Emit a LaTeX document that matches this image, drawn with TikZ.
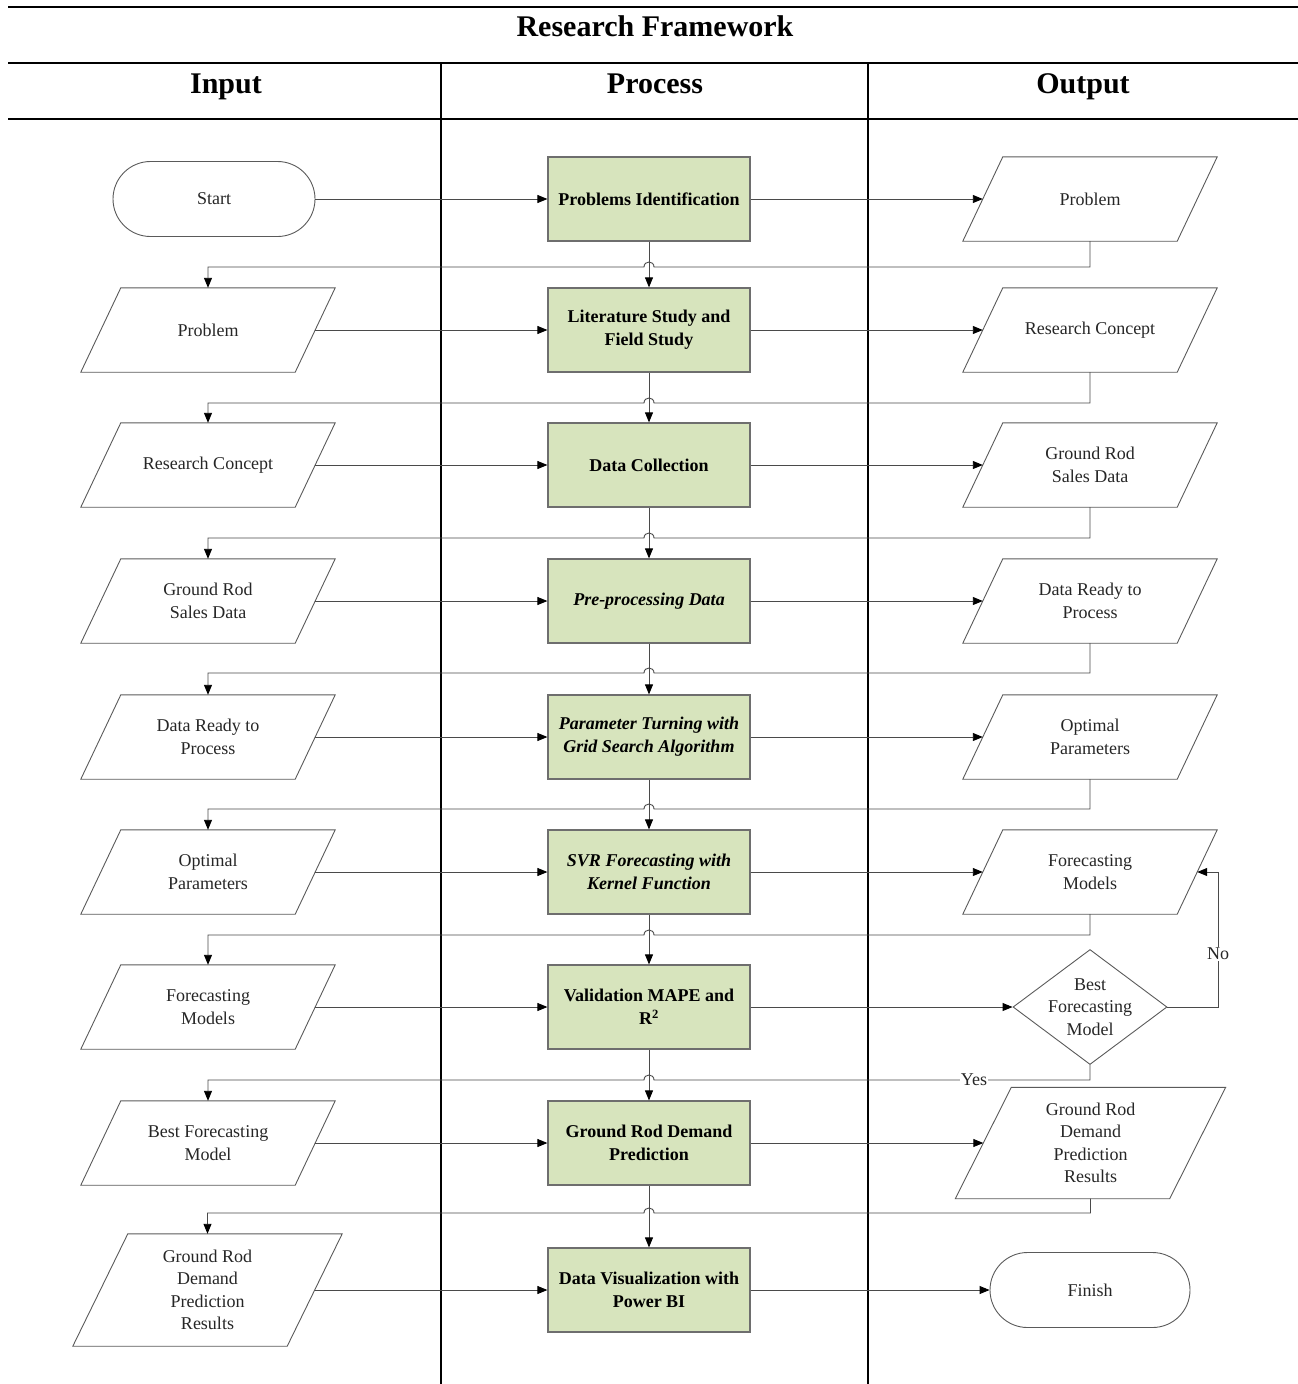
\documentclass[tikz,border=0pt]{standalone}
\usepackage{fontspec}
\setmainfont{Liberation Serif}
\usetikzlibrary{arrows.meta,shapes.geometric}
\definecolor{procfill}{HTML}{D7E4BD}
\definecolor{procline}{HTML}{6E6E6E}
\definecolor{shapeline}{HTML}{5A5A5A}
\definecolor{conline}{HTML}{4A4A4A}
\tikzset{
 body/.style={font=\fontsize{18}{22.5}\selectfont, align=center, text=black!85},
 procbox/.style={align=center, font=\fontsize{18}{22.8}\selectfont\bfseries, draw=procline, fill=procfill, line width=1.2pt, minimum width=202pt, minimum height=84pt, inner sep=0pt},
 iotext/.style={body, minimum width=214pt, inner sep=0pt},
 outlinestyle/.style={draw=shapeline, line width=0.9pt},
 terminal/.style={body, draw=shapeline, line width=0.9pt, rounded corners=37.5pt, minimum height=75pt, inner sep=0pt},
 diashape/.style={diamond, draw=shapeline, line width=0.9pt, minimum width=154pt, minimum height=115pt, inner sep=0pt},
 arr/.style={draw=conline, line width=0.9pt, -{Triangle[length=10pt,width=8pt,color=black]}},
 tline/.style={line width=2.5pt, black},
 head/.style={font=\fontsize{30}{36}\selectfont\bfseries, text height=21pt, text depth=7pt, inner sep=0pt},
 lbl/.style={body, fill=white, inner sep=1pt},
}
\newcommand{\mkio}[5]{%
 \node[iotext, minimum height=#3pt] (#1) at #2 {#5};
 \draw[outlinestyle] ([xshift=#4pt]#1.north west) -- ([xshift=#4pt]#1.north east) -- ([xshift=-#4pt]#1.south east) -- ([xshift=-#4pt]#1.south west) -- cycle;}
\newcommand{\fb}[3]{%
 \draw[arr] (#1.south) -- (#1.south |- 0,#3) -- (654,#3) .. controls (654,#3-6.67) and (644,#3-6.67) .. (644,#3) -- (#2.north |- 0,#3) -- (#2.north);}
\begin{document}
\begin{tikzpicture}[x=1pt,y=-1pt]
\useasboundingbox (0,0) rectangle (1298,1384);
% table
\coordinate (tl1) at (8,7); \coordinate (tr1) at (1298,7);
\coordinate (tl2) at (8,63); \coordinate (tr2) at (1298,63);
\coordinate (tl3) at (8,119); \coordinate (tr3) at (1298,119);
\coordinate (va) at (441,63); \coordinate (vab) at (441,1384);
\coordinate (vb) at (868,63); \coordinate (vbb) at (868,1384);
\draw[tline] (tl1) -- (tr1);
\draw[tline] (tl2) -- (tr2);
\draw[tline] (tl3) -- (tr3);
\draw[line width=2pt] (va) -- (vab);
\draw[line width=2pt] (vb) -- (vbb);
\node[head] (title) at (655,29) {Research Framework};
\node[head] (hin) at (226,86) {Input};
\node[head] (hpr) at (655,86) {Process};
\node[head] (hout) at (1083,86) {Output};

% process column
\node[procbox] (p1) at (649,199) {Problems Identification};
\node[procbox] (p2) at (649,330) {Literature Study and\\Field Study};
\node[procbox] (p3) at (649,465) {Data Collection};
\node[procbox] (p4) at (649,601) {\itshape Pre-processing Data};
\node[procbox] (p5) at (649,737) {\itshape Parameter Turning with\\\itshape Grid Search Algorithm};
\node[procbox] (p6) at (649,872) {\itshape SVR Forecasting with\\\itshape Kernel Function};
\node[procbox] (p7) at (649,1007) {Validation MAPE and\\R\textsuperscript{2}};
\node[procbox] (p8) at (649,1143) {Ground Rod Demand\\Prediction};
\node[procbox] (p9) at (649,1290) {Data Visualization with\\Power BI};

% input column
\node[terminal, minimum width=202pt] (start) at (214,199) {Start};
\mkio{in2}{(208,330)}{84}{20}{Problem}
\mkio{in3}{(208,465)}{84}{20}{Research Concept}
\mkio{in4}{(208,601)}{84}{20}{Ground Rod\\Sales Data}
\mkio{in5}{(208,737)}{84}{20}{Data Ready to\\Process}
\mkio{in6}{(208,872)}{84}{20}{Optimal\\Parameters}
\mkio{in7}{(208,1007)}{84}{20}{Forecasting\\Models}
\mkio{in8}{(208,1143)}{84}{20}{Best Forecasting\\Model}
\mkio{in9}{(207.5,1290)}{112}{27.5}{Ground Rod\\Demand\\Prediction\\Results}

% output column
\mkio{out1}{(1090,199)}{84}{20}{Problem}
\mkio{out2}{(1090,330)}{84}{20}{Research Concept}
\mkio{out3}{(1090,465)}{84}{20}{Ground Rod\\Sales Data}
\mkio{out4}{(1090,601)}{84}{20}{Data Ready to\\Process}
\mkio{out5}{(1090,737)}{84}{20}{Optimal\\Parameters}
\mkio{out6}{(1090,872)}{84}{20}{Forecasting\\Models}
\node[diashape] (dia) at (1090,1007) {};
\node[body] (diatext) at (dia.center) {Best\\Forecasting\\Model};
\mkio{out8}{(1090.5,1143)}{111}{28}{Ground Rod\\Demand\\Prediction\\Results}
\node[terminal, minimum width=200pt] (fin) at (1090,1290) {Finish};

% horizontal arrows
\draw[arr] (start.east) -- (p1.west);
\draw[arr] (p1.east) -- (out1.west);
\foreach \i in {2,...,6}{
 \draw[arr] (in\i.east) -- (p\i.west);
 \draw[arr] (p\i.east) -- (out\i.west);
}
\draw[arr] (in7.east) -- (p7.west);
\draw[arr] (p7.east) -- (dia.west);
\draw[arr] (in8.east) -- (p8.west);
\draw[arr] (p8.east) -- (out8.west);
\draw[arr] (in9.east) -- (p9.west);
\draw[arr] (p9.east) -- (fin.west);

% vertical process arrows
\draw[arr] (p1.south) -- (p2.north);
\draw[arr] (p2.south) -- (p3.north);
\draw[arr] (p3.south) -- (p4.north);
\draw[arr] (p4.south) -- (p5.north);
\draw[arr] (p5.south) -- (p6.north);
\draw[arr] (p6.south) -- (p7.north);
\draw[arr] (p7.south) -- (p8.north);
\draw[arr] (p8.south) -- (p9.north);

% feedback lines
\fb{out1}{in2}{267}
\fb{out2}{in3}{403}
\fb{out3}{in4}{538}
\fb{out4}{in5}{673}
\fb{out5}{in6}{809}
\fb{out6}{in7}{935}
\fb{dia}{in8}{1080}
\fb{out8}{in9}{1213}
\node[lbl] (yes) at (974,1080) {Yes};

% No loop
\draw[arr] (dia.east) -- ++(51,0) |- (out6.east);
\node[lbl] (no) at (1218,954) {No};
\end{tikzpicture}
\end{document}
